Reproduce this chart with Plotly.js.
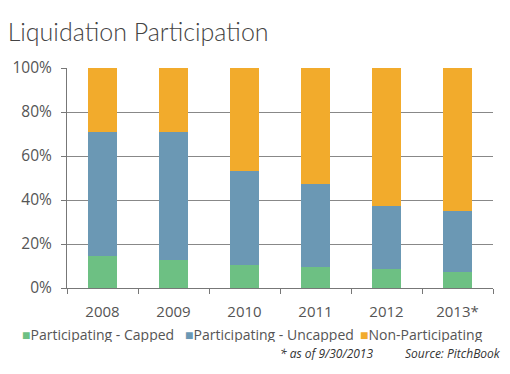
<!DOCTYPE html>
<html><head><meta charset="utf-8">
<script src="https://cdn.plot.ly/plotly-3.0.1.min.js"></script>
<style>html,body{margin:0;padding:0;background:#fff}#c{width:510px;height:374px}</style>
</head><body><div id="c"></div>
<script>
const years = ["2008","2009","2010","2011","2012","2013*"];
const capped = [14.5, 12.7, 10.5, 9.5, 8.6, 7.4];
const uncapped = [56.5, 58.3, 42.8, 37.9, 28.7, 27.7];
const nonPart = [29.0, 29.0, 46.7, 52.6, 62.7, 64.9];
const yTicks = [0,20,40,60,80,100];
const yTickLabels = ["0%","20%","40%","60%","80%","100%"];
const seriesNames = ["Participating - Capped","Participating - Uncapped","Non-Participating"];
const seriesColors = ["#6dc083","#6b98b4","#f2ab2c"];

const W = 510, H = 374, ML = 67, MR = 17, MT = 68, MB = 86, PW = W - ML - MR, PH = H - MT - MB;
const px2paperX = p => (p - ML) / PW;
const px2paperY = p => (H - MB - p) / PH;

const mk = (i, y) => ({type:'bar', name:seriesNames[i], x:years, y, marker:{color:seriesColors[i], line:{width:0}}, width:0.4, hoverinfo:'skip'});
const data = [mk(0, capped), mk(1, uncapped), mk(2, nonPart)];

const legendX = [20, 183, 358];
const legendAnn = seriesNames.map((n, i) => ({
  text:'<span style="color:' + seriesColors[i] + '">■</span>' + n,
  xref:'paper', yref:'paper', x:px2paperX(legendX[i]), xanchor:'left', y:px2paperY(333.5), yanchor:'middle', height:16,
  showarrow:false, font:{size:14, color:'#555', family:'"Open Sans", sans-serif'}
}));

const layout = {
  width:W, height:H,
  margin:{l:ML, r:MR, t:MT, b:MB},
  barmode:'stack',
  paper_bgcolor:'#fff', plot_bgcolor:'#fff',
  font:{family:'"Open Sans", "DejaVu Sans", sans-serif', color:'#555'},
  title:{text:'Liquidation Participation', x:0.015, xref:'container', xanchor:'left', y:0.89, yref:'container', yanchor:'bottom',
    font:{family:'Lato, "DejaVu Sans", sans-serif', size:25, color:'#444', weight:300}},
  showlegend:false,
  xaxis:{type:'category', tickson:'boundaries', ticks:'outside', ticklen:5, tickcolor:'#777', showline:true, linecolor:'#777', linewidth:1, showgrid:false, tickfont:{size:15, color:'#555'}, ticklabelstandoff:10, fixedrange:true},
  yaxis:{range:[0,100], tickvals:yTicks, ticktext:yTickLabels, ticks:'outside', ticklen:5, tickcolor:'#777', showline:true, linecolor:'#777', gridcolor:'#888', gridwidth:1, zeroline:false, tickfont:{size:15.5, color:'#555'}, ticklabelstandoff:6, fixedrange:true},
  annotations:legendAnn.concat([
    {text:'<i>* as of 9/30/2013</i>', xref:'paper', yref:'paper', x:px2paperX(375), xanchor:'right', y:px2paperY(352.5), yanchor:'middle', height:14, showarrow:false, font:{size:12, color:'#333', family:'"Open Sans", sans-serif'}},
    {text:'<i>Source: PitchBook</i>', xref:'paper', yref:'paper', x:px2paperX(503), xanchor:'right', y:px2paperY(352.5), yanchor:'middle', height:14, showarrow:false, font:{size:12, color:'#333', family:'"Open Sans", sans-serif'}}
  ])
};
Plotly.newPlot('c', data, layout, {displayModeBar:false, staticPlot:true});
</script></body></html>
